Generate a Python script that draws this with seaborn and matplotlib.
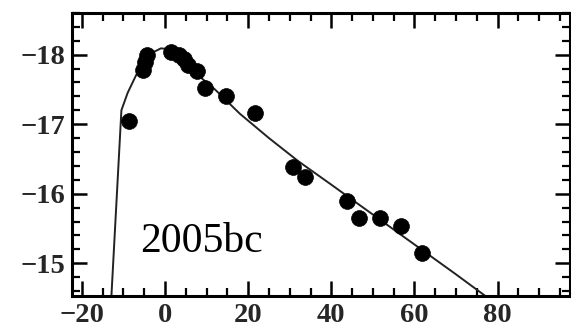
import matplotlib
matplotlib.use("Agg")
import matplotlib.pyplot as plt
import seaborn as sns
import pandas as pd
from matplotlib.ticker import MultipleLocator

# observed photometry (days since max, absolute magnitude)
obs_days = [-8.7, -5.3, -4.8, -4.3, 1.4, 3.4, 4.6, 5.5, 7.6, 9.6, 14.7, 21.6,
            30.8, 33.7, 43.7, 46.6, 51.7, 56.7, 61.8]
obs_mag = [-17.05, -17.78, -17.90, -18.00, -18.04, -18.00, -17.93, -17.85, -17.76,
           -17.52, -17.40, -17.16, -16.39, -16.24, -15.89, -15.65, -15.65, -15.54, -15.15]

# template light curve
tmpl_days = [-13.2, -10.5, -9.0, -7.0, -5.0, -3.0, -1.0, 1.0, 3.0, 5.0, 8.0, 12.0,
             18.0, 25.0, 32.0, 40.0, 50.0, 60.0, 70.0, 80.0]
tmpl_mag = [-14.2, -17.2, -17.45, -17.7, -17.92, -18.03, -18.09, -18.08, -18.0, -17.88,
            -17.7, -17.5, -17.15, -16.8, -16.47, -16.13, -15.7, -15.27, -14.84, -14.4]

x_ticks = [-20, 0, 20, 40, 60, 80]
y_ticks = [-18, -17, -16, -15]
label = "2005bc"

sns.set_style("ticks")
plt.rcParams["font.family"] = ["Liberation Serif", "DejaVu Serif"]

fig = plt.figure(figsize=(5.71, 3.31), dpi=100)
ax = fig.add_axes([0.126, 0.106, 0.872, 0.855])

df_obs = pd.DataFrame({"day": obs_days, "mag": obs_mag})
df_t = pd.DataFrame({"day": tmpl_days, "mag": tmpl_mag})

sns.lineplot(data=df_t, x="day", y="mag", ax=ax, color="#222222", linewidth=1.4,
             sort=False, estimator=None)
sns.scatterplot(data=df_obs, x="day", y="mag", ax=ax, color="black", s=130,
                edgecolor="black", linewidth=0.5, zorder=3)

ax.set_xlim(-22.4, 97.4)
ax.set_ylim(-14.53, -18.6)
ax.set_xticks(x_ticks)
ax.set_yticks(y_ticks)
ax.xaxis.set_minor_locator(MultipleLocator(5))
ax.yaxis.set_minor_locator(MultipleLocator(0.2))
ax.set_xlabel("")
ax.set_ylabel("")

for side in ["top", "bottom", "left", "right"]:
    ax.spines[side].set_visible(True)
    ax.spines[side].set_linewidth(2.2)
    ax.spines[side].set_color("black")

ax.tick_params(which="both", direction="in", top=True, right=True, color="black")
ax.tick_params(which="major", length=11, width=1.8, labelsize=20.5, pad=5)
ax.tick_params(which="minor", length=6, width=1.6)
for lab in ax.get_xticklabels() + ax.get_yticklabels():
    lab.set_fontweight("bold")

ax.text(0.26, 0.19, label, transform=ax.transAxes, fontsize=30,
        ha="center", va="center", color="black")

fig.savefig("out.png", dpi=100)
